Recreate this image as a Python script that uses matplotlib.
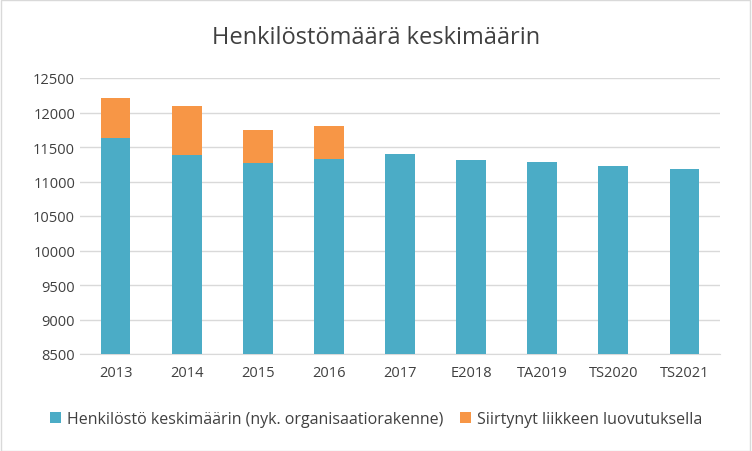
import matplotlib
matplotlib.use("Agg")
import matplotlib.pyplot as plt
from matplotlib.patches import Rectangle

categories = ["2013","2014","2015","2016","2017","E2018","TA2019","TS2020","TS2021"]
henkilosto = [11630,11385,11270,11325,11400,11310,11280,11225,11180]
siirtynyt = [580,710,475,480,0,0,0,0,0]

plt.rcParams['font.family'] = ['Open Sans', 'DejaVu Sans']
fig = plt.figure(figsize=(7.52,4.52), dpi=100)
ax = fig.add_axes([80/752, 1-355/452, 640/752, 276/452])
x = range(len(categories))
ax.bar(x, henkilosto, width=0.42, color="#4BACC6", label="Henkilöstö keskimäärin (nyk. organisaatiorakenne)", zorder=3)
ax.bar(x, siirtynyt, width=0.42, bottom=henkilosto, color="#F79646", label="Siirtynyt liikkeen luovutuksella", zorder=3)
ax.set_ylim(8500,12500)
ax.set_yticks(range(8500,12501,500))
ax.set_xlim(-0.5, len(categories)-0.5)
ax.set_xticks(list(x))
ax.set_xticklabels(categories)
ax.grid(axis='y', color="#D9D9D9", lw=1, zorder=0)
for s in ax.spines.values():
    s.set_visible(False)
ax.spines['bottom'].set_visible(True)
ax.spines['bottom'].set_color("#D9D9D9")
ax.tick_params(length=0, labelsize=10.5, colors="#404040")
ax.tick_params(axis='x', pad=8)
fig.text(0.5, 1-38/452, "Henkilöstömäärä keskimäärin", ha='center', va='center', fontsize=17, color="#404040")
fig.legend(loc='center', bbox_to_anchor=(0.5, 1-420/452), ncol=2, frameon=False, fontsize=11.5,
           handlelength=0.7, handleheight=0.7, columnspacing=1.0, handletextpad=0.4, labelcolor="#404040")
fig.add_artist(Rectangle((0.001,0.001),0.997,0.997, transform=fig.transFigure, fill=False, ec="#D9D9D9", lw=1))
fig.savefig("out.png", dpi=100)
